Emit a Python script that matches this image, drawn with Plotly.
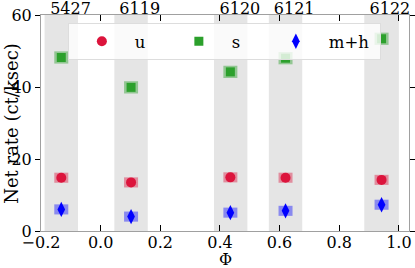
import plotly.graph_objects as go

# ---- data ----
obs_ids = ["5427", "6119", "6120", "6121", "6122"]
phase = [-0.132, 0.102, 0.435, 0.620, 0.942]
band_start = [-0.188, 0.046, 0.380, 0.564, 0.884]
band_end = [-0.076, 0.158, 0.492, 0.676, 1.000]
top_label_pos = [-0.101, 0.131, 0.467, 0.649, 0.970]

u_rate = [14.8, 13.5, 14.9, 14.8, 14.2]
u_err = [1.4, 1.4, 1.4, 1.4, 1.4]
s_rate = [48.2, 39.9, 44.2, 48.0, 53.4]
s_err = [1.7, 1.7, 1.7, 1.7, 1.7]
mh_rate = [6.0, 4.0, 5.1, 5.6, 7.3]
mh_err = [1.4, 1.4, 1.4, 1.4, 1.4]

x_ticks = [-0.2, 0.0, 0.2, 0.4, 0.6, 0.8, 1.0]
y_ticks = [0, 20, 40, 60]

FONT = "DejaVu Serif"
FS = 16

series = [
    ("u", u_rate, u_err, "#dc143c", "rgba(220,20,60,0.42)", "circle", 10, 26),
    ("s", s_rate, s_err, "#2ca02c", "rgba(44,160,44,0.45)", "square", 9, 26),
    ("m+h", mh_rate, mh_err, "#0000ff", "rgba(0,0,255,0.40)", "diamond-tall", 11, 46),
]

fig = go.Figure()

# error boxes (behind)
for name, vals, errs, col, ecol, sym, sz, lw in series:
    fig.add_trace(go.Scatter(
        x=phase, y=vals, mode="markers", showlegend=False, hoverinfo="skip",
        marker=dict(size=1, color="rgba(0,0,0,0)"),
        error_y=dict(type="data", array=errs, visible=True, color=ecol,
                     thickness=14, width=0),
    ))

# markers
for name, vals, errs, col, ecol, sym, sz, lw in series:
    fig.add_trace(go.Scatter(
        x=phase, y=vals, mode="markers", name=name, legendwidth=lw,
        marker=dict(symbol=sym, size=sz, color=col, line=dict(width=0)),
    ))

# shaded observation bands
for a, b in zip(band_start, band_end):
    fig.add_shape(type="rect", xref="x", yref="paper", x0=a, x1=b, y0=0, y1=1,
                  fillcolor="#e5e5e5", line=dict(width=0), layer="below")

# top axis labels (observation ids)
fig.add_trace(go.Scatter(x=[None], y=[None], xaxis="x2", showlegend=False))

fig.update_layout(
    width=415, height=268,
    margin=dict(l=41, r=6, t=15, b=37, autoexpand=False),
    paper_bgcolor="white", plot_bgcolor="white",
    font=dict(family=FONT, size=FS, color="black"),
    showlegend=True,
    legend=dict(
        orientation="h", x=0.073, y=0.963, xanchor="left", yanchor="top",
        bgcolor="rgba(255,255,255,0.8)", bordercolor="#dddddd", borderwidth=1,
        itemwidth=56, entrywidthmode="pixels",
        font=dict(family=FONT, size=16.5),
    ),
    xaxis=dict(
        range=[-0.2, 1.034], tickvals=x_ticks, tickformat=".1f", automargin=False,
        ticks="inside", ticklen=6, tickcolor="black", showgrid=False, zeroline=False,
        showline=True, linecolor="#a0a0a0", linewidth=1, mirror="ticks",
        ticklabelstandoff=-3,
    ),
    xaxis2=dict(
        overlaying="x", side="top", matches="x", range=[-0.2, 1.034], automargin=False,
        tickvals=top_label_pos, ticktext=obs_ids, ticks="", showgrid=False,
        zeroline=False, showline=False, ticklabelstandoff=-3,
    ),
    yaxis=dict(
        range=[0, 60], tickvals=y_ticks, ticks="outside", ticklen=5, automargin=False,
        tickcolor="black", showgrid=False, zeroline=False,
        showline=True, linecolor="#a0a0a0", linewidth=1, mirror="ticks",
    ),
    annotations=[
        dict(text="Net rate (ct/ksec)", textangle=-90, xref="paper", yref="paper",
             x=-0.082, y=0.5, xanchor="center", yanchor="middle", showarrow=False,
             font=dict(family=FONT, size=18)),
        dict(text="Φ", xref="paper", yref="paper", x=0.5, y=-0.133,
             xanchor="center", yanchor="middle", showarrow=False,
             font=dict(family=FONT, size=16)),
    ],
)

fig.write_html("out.html", config={"displayModeBar": False},
               post_script="document.body.style.margin='0';document.body.style.overflow='hidden';")
